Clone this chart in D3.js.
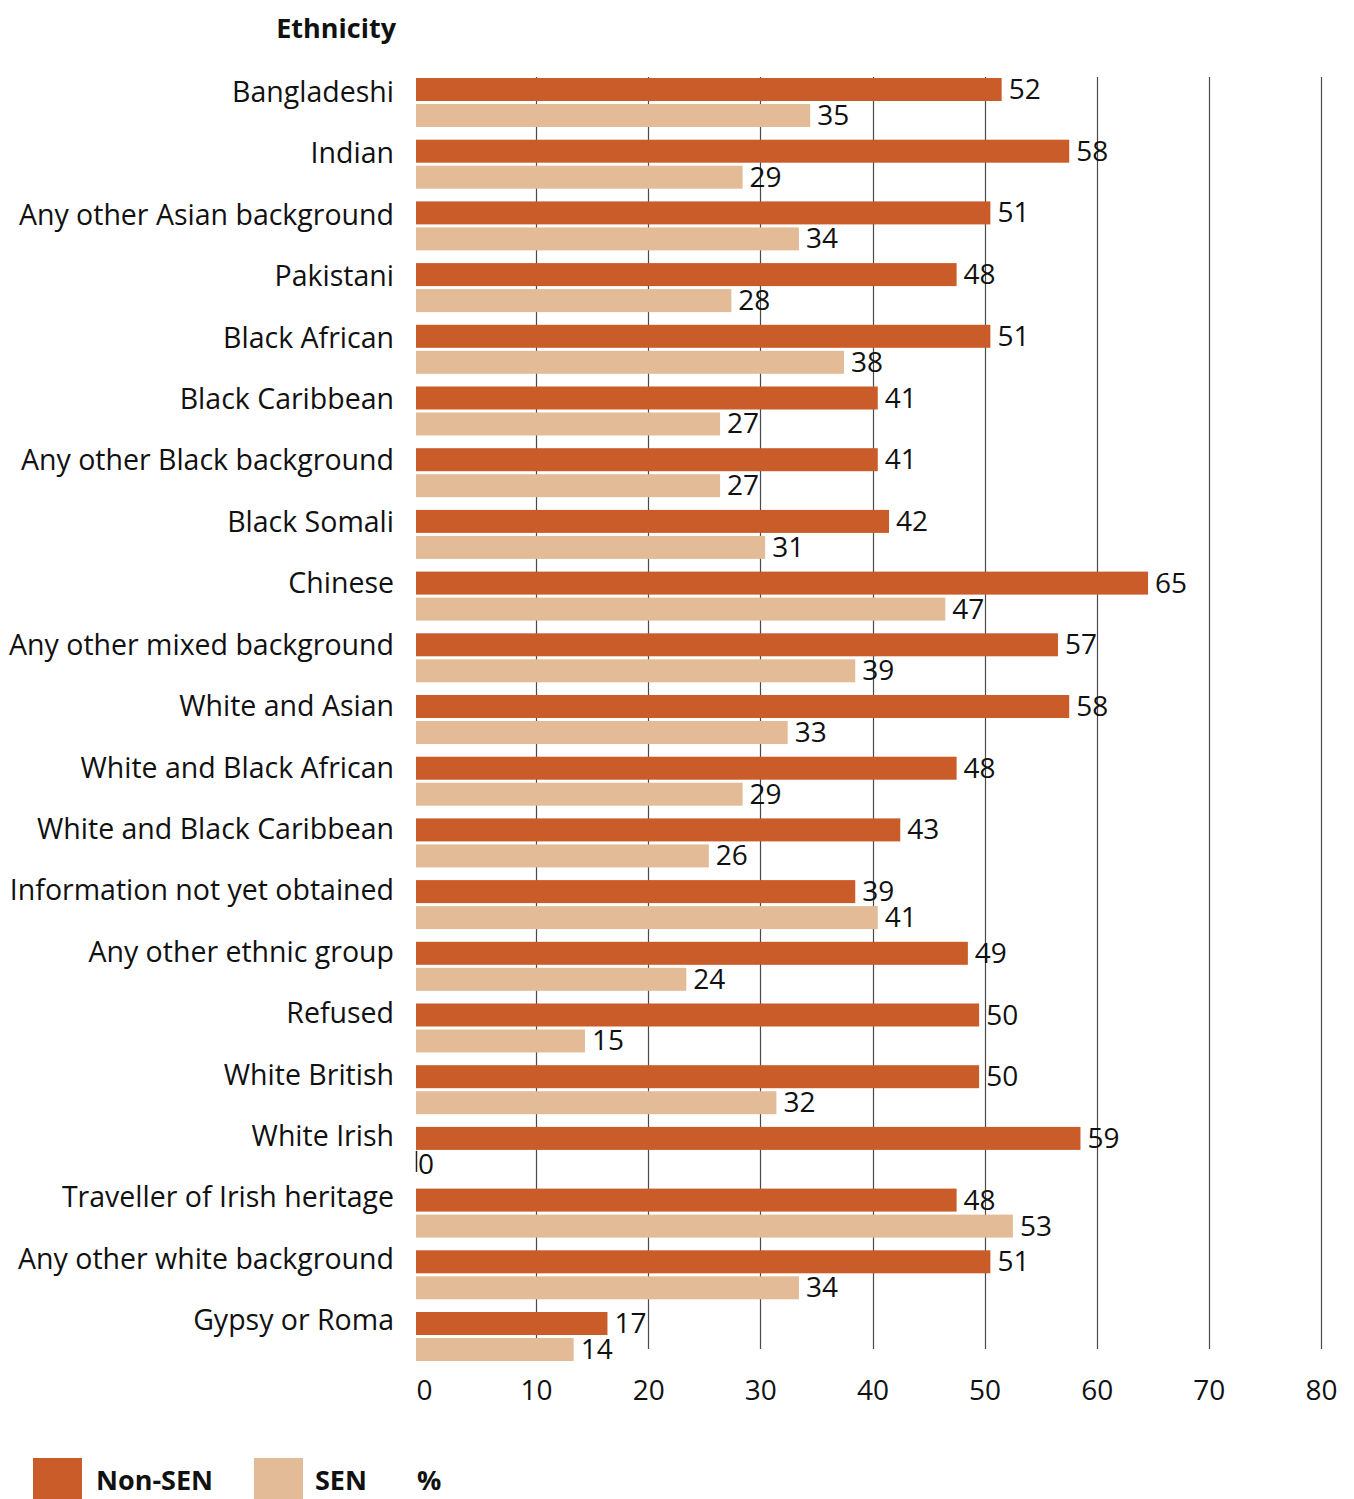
<!DOCTYPE html>
<html>
<head>
<meta charset="utf-8">
<script src="https://cdn.jsdelivr.net/npm/d3@7"></script>
<style>
  html, body { margin: 0; padding: 0; background: #fff; }
  svg { display: block; }
  text { font-family: "Open Sans", "Noto Sans", sans-serif; fill: #111; }
</style>
</head>
<body>
<svg id="chart" width="1354" height="1499"></svg>
<script>
// Attainment by ethnicity, non-SEN vs SEN pupils (%)
const categories = [
  "Bangladeshi", "Indian", "Any other Asian background", "Pakistani",
  "Black African", "Black Caribbean", "Any other Black background",
  "Black Somali", "Chinese", "Any other mixed background",
  "White and Asian", "White and Black African", "White and Black Caribbean",
  "Information not yet obtained", "Any other ethnic group", "Refused",
  "White British", "White Irish", "Traveller of Irish heritage",
  "Any other white background", "Gypsy or Roma"
];
const nonSenValues = [52, 58, 51, 48, 51, 41, 41, 42, 65, 57, 58, 48, 43, 39, 49, 50, 50, 59, 48, 51, 17];
const senValues    = [35, 29, 34, 28, 38, 27, 27, 31, 47, 39, 33, 29, 26, 41, 24, 15, 32, 0, 53, 34, 14];
const seriesNames  = ["Non-SEN", "SEN"];
const tickValues   = [0, 10, 20, 30, 40, 50, 60, 70, 80];
const axisTitle    = "Ethnicity";
const unitLabel    = "%";

const colors = { "Non-SEN": "#C95C28", "SEN": "#E3BC97" };

const svg = d3.select("#chart");

// Bars and the axis/grid use slightly different origins
const xBar  = d3.scaleLinear().domain([0, 80]).range([416, 1317]);
const xGrid = d3.scaleLinear().domain([0, 80]).range([424, 1321]);

const y = d3.scaleBand().domain(categories).range([78, 1361]).paddingInner(0.206).paddingOuter(0);
const ySub = d3.scaleBand().domain(seriesNames).range([0, y.bandwidth()]).paddingInner(0.1154);
// Category labels sit on a slightly tighter rhythm than the bars
const yLabel = d3.scaleBand().domain(categories).range([78, 1355]).paddingInner(0.206).paddingOuter(0);

const rows = categories.map((c, i) => ({
  category: c,
  values: [
    { series: "Non-SEN", value: nonSenValues[i] },
    { series: "SEN", value: senValues[i] }
  ]
}));

// Vertical gridlines
svg.append("g").attr("class", "grid")
  .selectAll("line")
  .data(tickValues.filter(t => t > 0))
  .join("line")
  .attr("x1", d => Math.round(xGrid(d)) + 0.5)
  .attr("x2", d => Math.round(xGrid(d)) + 0.5)
  .attr("y1", 77)
  .attr("y2", 1349)
  .attr("stroke", "#4a4a4a")
  .attr("stroke-width", 1.2);

// Bar groups
const groups = svg.append("g").attr("class", "bars")
  .selectAll("g")
  .data(rows)
  .join("g")
  .attr("transform", d => `translate(0,${y(d.category)})`);

groups.selectAll("rect")
  .data(d => d.values)
  .join("rect")
  .attr("x", xBar(0))
  .attr("y", d => ySub(d.series))
  .attr("width", d => xBar(d.value) - xBar(0))
  .attr("height", ySub.bandwidth())
  .attr("fill", d => colors[d.series]);

// Zero-length bars show as a hairline at the origin
groups.selectAll("line.zero")
  .data(d => d.values.filter(v => v.value === 0))
  .join("line")
  .attr("class", "zero")
  .attr("x1", xBar(0) + 0.5)
  .attr("x2", xBar(0) + 0.5)
  .attr("y1", d => ySub(d.series) - 2)
  .attr("y2", d => ySub(d.series) + ySub.bandwidth() - 4)
  .attr("stroke", "#222")
  .attr("stroke-width", 1.5);

// Value labels
groups.selectAll("text.value")
  .data(d => d.values)
  .join("text")
  .attr("class", "value")
  .attr("x", d => xBar(d.value) + (d.value === 0 ? 2 : 7))
  .attr("y", d => ySub(d.series) + ySub.bandwidth() - 2)
  .attr("font-size", 28)
  .text(d => d.value);

// Category labels
svg.append("g").attr("class", "categories")
  .selectAll("text")
  .data(categories)
  .join("text")
  .attr("x", 394)
  .attr("y", d => yLabel(d) + ySub.bandwidth() + 1)
  .attr("text-anchor", "end")
  .attr("font-size", 28.5)
  .text(d => d);

// Axis title
svg.append("text")
  .attr("x", 396)
  .attr("y", 38)
  .attr("text-anchor", "end")
  .attr("font-size", 27)
  .attr("font-weight", 700)
  .text(axisTitle);

// X axis tick labels
const axis = d3.axisBottom(xGrid).tickValues(tickValues).tickSize(0).tickPadding(0);
const axisG = svg.append("g").attr("transform", "translate(0,1379)").call(axis);
axisG.select(".domain").remove();
axisG.selectAll("text")
  .attr("font-size", 28)
  .attr("dy", 0)
  .attr("y", 21)
  .style("font-family", '"Open Sans", sans-serif')
  .attr("fill", "#111");

// Legend
const legendItems = [
  { name: "Non-SEN", sx: 33, tx: 96 },
  { name: "SEN", sx: 254, tx: 315 }
];
const legend = svg.append("g").attr("class", "legend");
legend.selectAll("rect")
  .data(legendItems)
  .join("rect")
  .attr("x", d => d.sx)
  .attr("y", 1458)
  .attr("width", 49)
  .attr("height", 41)
  .attr("fill", d => colors[d.name]);
legend.selectAll("text")
  .data(legendItems)
  .join("text")
  .attr("x", d => d.tx)
  .attr("y", 1490)
  .attr("font-size", 27)
  .attr("font-weight", 700)
  .text(d => d.name);
legend.append("text")
  .attr("x", 417)
  .attr("y", 1490)
  .attr("font-size", 27)
  .attr("font-weight", 700)
  .text(unitLabel);
</script>
</body>
</html>
